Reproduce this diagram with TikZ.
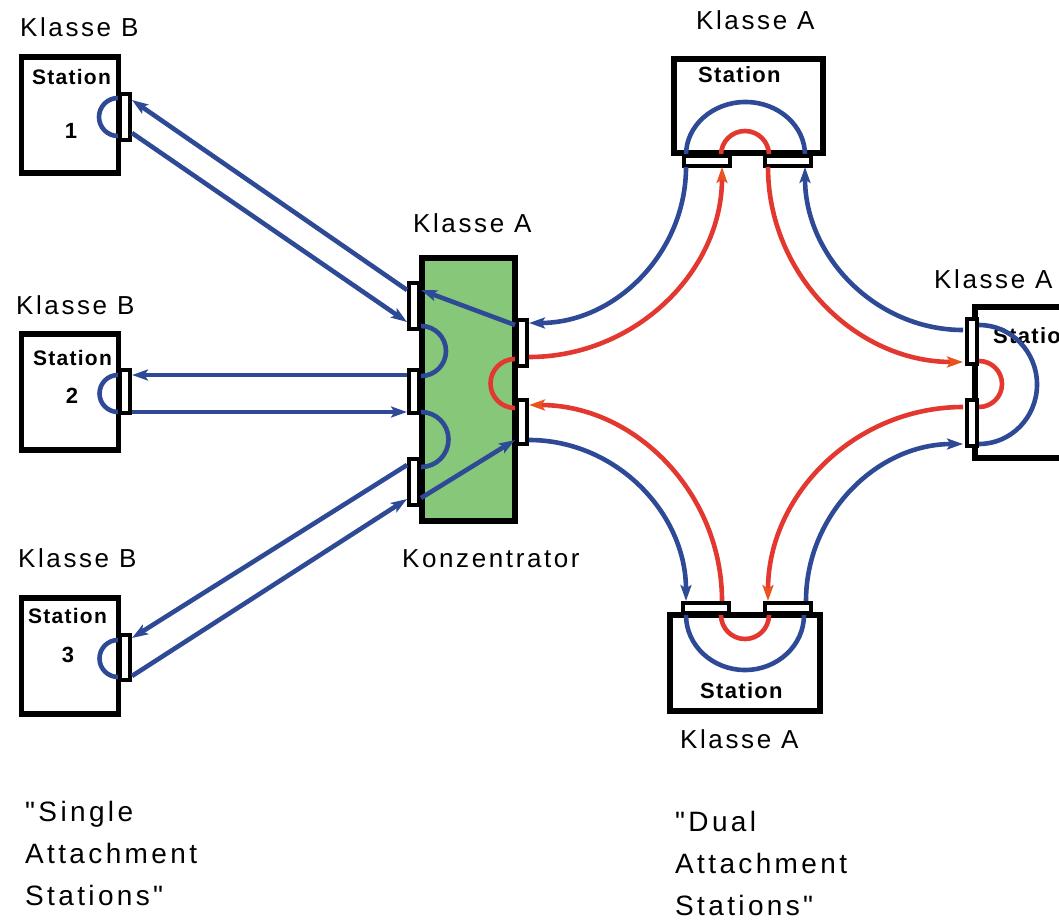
\documentclass[tikz,border=0pt]{standalone}
\usepackage{fontspec}
\setmainfont{Liberation Sans}
\newfontfamily\lblfont[LetterSpace=10]{Liberation Sans}
\newfontfamily\bigfont[LetterSpace=12]{Liberation Sans}
\newfontfamily\stfont[LetterSpace=6]{Liberation Sans}
\usetikzlibrary{arrows.meta,calc}
\definecolor{myblue}{RGB}{46,74,150}
\definecolor{myred}{RGB}{226,56,48}
\definecolor{myorange}{RGB}{234,82,32}
\definecolor{mygreen}{RGB}{134,199,122}
\begin{document}
\begin{tikzpicture}[x=1pt,y=-1pt,
  box/.style={draw=black,line width=5.5pt,fill=white,inner sep=0pt},
  port/.style={draw=black,line width=4pt,fill=white,inner sep=0pt},
  bl/.style={draw=myblue,line width=4.6pt},
  rd/.style={draw=myred,line width=4.6pt},
  barrow/.style={-{Stealth[length=16pt,width=11pt,inset=3.5pt]}},
  rarrow/.style={-{Stealth[length=16pt,width=11pt,inset=3.5pt,color=myorange]}},
  lbl/.style={inner sep=0pt,anchor=base west,font=\lblfont\fontsize{26}{30}\selectfont},
  stlb/.style={inner sep=0pt,anchor=base west,font=\stfont\bfseries\fontsize{21}{24}\selectfont},
  stla/.style={inner sep=0pt,anchor=base west,font=\stfont\bfseries\fontsize{22}{26}\selectfont},
  num/.style={inner sep=0pt,anchor=base,font=\bfseries\fontsize{22}{26}\selectfont},
  note/.style={inner sep=0pt,anchor=north west,align=left,font=\bigfont\fontsize{28}{42}\selectfont}]
\useasboundingbox (0,0) rectangle (1059,920);
\clip (0,0) rectangle (1059,920);

% ---------- boxes ----------
\node[box,minimum width=97,minimum height=116] (st1) at (70,115) {};
\node[box,minimum width=97,minimum height=116] (st2) at (70,392) {};
\node[box,minimum width=97,minimum height=116] (st3) at (70,656) {};
\node[box,fill=mygreen,line width=6pt,minimum width=93,minimum height=263] (konz) at (468,389) {};
\node[box,minimum width=149,minimum height=94] (sttop) at (748.5,106) {};
\node[box,minimum width=120,minimum height=151] (stright) at (1035,382.5) {};
\node[box,minimum width=150,minimum height=96] (stbot) at (745,663) {};

% ---------- labels ----------
\node[lbl] (kb1) at (20,37) {Klasse B};
\node[lbl] (kb2) at (16,314) {Klasse B};
\node[lbl] (kb3) at (18,567) {Klasse B};
\node[lbl] (katop) at (696,30) {Klasse A};
\node[lbl] (kakonz) at (413,232) {Klasse A};
\node[lbl] (karight) at (934,288) {Klasse A};
\node[lbl] (kabot) at (680,748) {Klasse A};
\node[lbl] (konzlbl) at (402,567) {Konzentrator};

\node[stlb] (st1t) at (32,85) {Station};
\node[num] (st1n) at (71,139) {1};
\node[stlb] (st2t) at (33,365) {Station};
\node[num] (st2n) at (72,403) {2};
\node[stlb] (st3t) at (28,623) {Station};
\node[num] (st3n) at (68,662) {3};
\node[stla] (sttopt) at (698,83) {Station};
\node[stla] (stbott) at (700,698) {Station};
\node[stla] (strightt) at (993,343) {Station};

\node[note] (single) at (25,801) {"Single\\Attachment\\Stations"};
\node[note] (dual) at (675,811) {"Dual\\Attachment\\Stations"};

% ---------- internal loops ----------
\draw[bl] (118,98) arc[start angle=90,end angle=270,radius=19pt];
\draw[bl] (118,375) arc[start angle=90,end angle=270,radius=18.5pt];
\draw[bl] (118,640) arc[start angle=90,end angle=270,radius=18.5pt];
\draw[bl] (421,326) arc[start angle=90,end angle=-90,radius=25pt];
\draw[bl] (421,412) arc[start angle=90,end angle=-90,radius=27.5pt];
\draw[rd] (515,359) arc[start angle=90,end angle=270,radius=24.5pt];
\draw[bl] (686,155) arc[start angle=180,end angle=0,x radius=59.5pt,y radius=53pt];
\draw[rd] (721,155) arc[start angle=180,end angle=0,radius=24pt];
\draw[bl] (979,325) arc[start angle=90,end angle=-90,x radius=58pt,y radius=59.5pt];
\draw[rd] (979,361) arc[start angle=90,end angle=-90,radius=23pt];
\draw[bl] (686,615) arc[start angle=180,end angle=360,x radius=59pt,y radius=55pt];
\draw[rd] (721,615) arc[start angle=180,end angle=360,radius=24pt];

% ---------- ports ----------
\node[port,minimum width=10,minimum height=46] (p1) at (125,117) {};
\node[port,minimum width=10,minimum height=43] (p2) at (125,391) {};
\node[port,minimum width=10,minimum height=45] (p3) at (125,657) {};
\node[port,minimum width=10,minimum height=46] (kl1) at (414,306) {};
\node[port,minimum width=10,minimum height=43] (kl2) at (414,391) {};
\node[port,minimum width=10,minimum height=46] (kl3) at (414,482) {};
\node[port,minimum width=10,minimum height=46] (kr1) at (522,343) {};
\node[port,minimum width=10,minimum height=44] (kr2) at (522,422) {};
\node[port,minimum width=46,minimum height=10] (tp1) at (706.5,161) {};
\node[port,minimum width=46,minimum height=10] (tp2) at (788,161) {};
\node[port,minimum width=10,minimum height=45] (rp1) at (971.5,341) {};
\node[port,minimum width=10,minimum height=46] (rp2) at (971.5,423) {};
\node[port,minimum width=46,minimum height=10] (bp1) at (706,608) {};
\node[port,minimum width=46,minimum height=10] (bp2) at (788,608) {};

% ---------- connector end points ----------
\coordinate (s1a) at (132,100);  \coordinate (s1b) at (132,133);
\coordinate (s2a) at (132,375);  \coordinate (s2b) at (132,412);
\coordinate (s3a) at (132,638);  \coordinate (s3b) at (132,676);
\coordinate (c1a) at (407,290);  \coordinate (c1b) at (407,322);
\coordinate (c2a) at (407,375);  \coordinate (c2b) at (407,412);
\coordinate (c3a) at (407,465);  \coordinate (c3b) at (407,499);
\coordinate (ci1) at (421,290);  \coordinate (ci3) at (421,498);
\coordinate (cr1i) at (515,325); \coordinate (cr2i) at (515,440);
\coordinate (cr1b) at (529,323); \coordinate (cr1r) at (529,357);
\coordinate (cr2r) at (529,405); \coordinate (cr2b) at (529,440);
\coordinate (tl1) at (686,167);  \coordinate (tl2) at (722,167);
\coordinate (tr1) at (768,167);  \coordinate (tr2) at (805,167);
\coordinate (ru1) at (963,330);  \coordinate (ru2) at (963,362);
\coordinate (rl1) at (963,407);  \coordinate (rl2) at (963,444);
\coordinate (bl1) at (686,601);  \coordinate (bl2) at (722,601);
\coordinate (br1) at (768,601);  \coordinate (br2) at (806,601);

% ---------- single attachment lines ----------
\draw[bl,barrow] (c1a) -- (s1a);
\draw[bl,barrow] (s1b) -- (c1b);
\draw[bl,barrow] (c2a) -- (s2a);
\draw[bl,barrow] (s2b) -- (c2b);
\draw[bl,barrow] (c3a) -- (s3a);
\draw[bl,barrow] (s3b) -- (c3b);
\draw[bl,barrow] (cr1i) -- (ci1);
\draw[bl,barrow] (ci3) -- (cr2i);

% ---------- dual ring ----------
\draw[bl,barrow] (tl1) .. controls ($(tl1)!0.55!(tl1|-cr1b)$) and ($(cr1b)!0.55!(tl1|-cr1b)$) .. (cr1b);
\draw[rd,rarrow] (cr1r) .. controls ($(cr1r)!0.55!(tl2|-cr1r)$) and ($(tl2)!0.55!(tl2|-cr1r)$) .. (tl2);
\draw[rd,rarrow] (tr1) .. controls ($(tr1)!0.55!(tr1|-ru2)$) and ($(ru2)!0.55!(tr1|-ru2)$) .. (ru2);
\draw[bl,barrow] (ru1) .. controls ($(ru1)!0.55!(tr2|-ru1)$) and ($(tr2)!0.55!(tr2|-ru1)$) .. (tr2);
\draw[rd,rarrow] (rl1) .. controls ($(rl1)!0.55!(br1|-rl1)$) and ($(br1)!0.55!(br1|-rl1)$) .. (br1);
\draw[bl,barrow] (br2) .. controls ($(br2)!0.55!(br2|-rl2)$) and ($(rl2)!0.55!(br2|-rl2)$) .. (rl2);
\draw[rd,rarrow] (bl2) .. controls ($(bl2)!0.55!(bl2|-cr2r)$) and ($(cr2r)!0.55!(bl2|-cr2r)$) .. (cr2r);
\draw[bl,barrow] (cr2b) .. controls ($(cr2b)!0.55!(bl1|-cr2b)$) and ($(bl1)!0.55!(bl1|-cr2b)$) .. (bl1);
\end{tikzpicture}
\end{document}
